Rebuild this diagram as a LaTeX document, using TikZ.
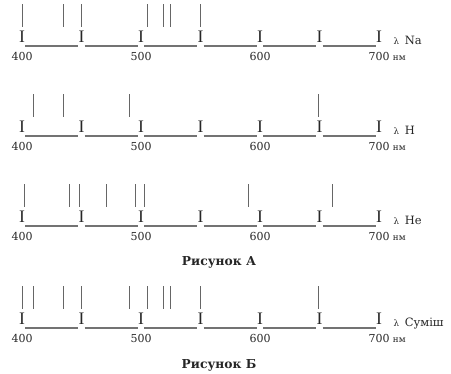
\documentclass[tikz,border=0pt]{standalone}
\usepackage{fontspec}
\setmainfont{DejaVu Serif}
\newfontfamily\tickfont{Liberation Serif}
\begin{document}
\begin{tikzpicture}
[   x=0.0357cm, y=0.03cm,
    itick/.style={anchor=south, inner xsep=0pt, inner ysep=2.6pt, text=black!85,
                  font=\tickfont\fontsize{15}{15}\selectfont},
    sline/.style={draw=black!60, line width=0.8pt},
    baseln/.style={draw=black!55, line width=1.1pt},
    num/.style={inner sep=0pt, text=black!85, font=\fontsize{9.4}{11}\selectfont},
    caption/.style={inner sep=0pt, text=black!85, font=\bfseries\fontsize{10.5}{12}\selectfont},
]
    \useasboundingbox (381.5,-374) rectangle (760.5,0);
    \foreach \r/\y/\el/\ls in {1/-46/Na/{400,435,450,505,519,525,550},
                               2/-136/H/{410,435,490,649},
                               3/-226/He/{402,440,448,471,495,503,590,661},
                               4/-328/Суміш/{400,410,435,450,490,505,519,525,550,649}}
    {   \foreach \l in \ls
        {   \draw[sline] (\l,\y+19) -- (\l,\y+42);
        }
        \foreach \k in {0,...,6}
        {   \node[itick] (t\r-\k) at (400+50*\k,\y) {I};
        }
        \foreach \k [count=\j] in {0,...,5}
        {   \draw[baseln] (t\r-\k.south east) -- (t\r-\j.south west);
        }
        \foreach \k/\v in {0/400,2/500,4/600,6/700}
        {   \node[num] (n\r-\k) at (400+50*\k,\y-11) {\v};
        }
        \node[anchor=base west, inner sep=0pt, text=black!85, font=\fontsize{7.5}{9}\selectfont]
            (u\r) at ([xshift=2.5pt]n\r-6.base east) {нм};
        \node[anchor=base west, inner sep=0pt, text=black!85, font=\fontsize{9.8}{11}\selectfont]
            (l\r) at (712,\y+1) {{\fontsize{7.5}{9}\selectfont λ}\enspace\el};
    }
    \node[caption] (capA) at (565.5,-262) {Рисунок А};
    \node[caption] (capB) at (565.5,-365) {Рисунок Б};
\end{tikzpicture}
\end{document}
